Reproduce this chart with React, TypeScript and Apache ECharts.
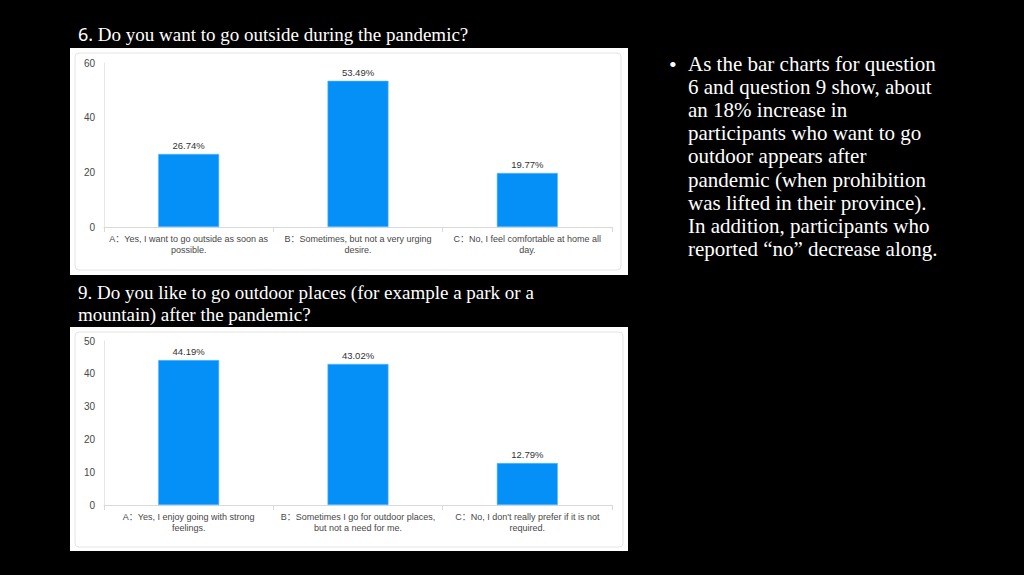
import React, { useEffect, useRef } from 'react';
import * as echarts from 'echarts';

// question 6
const q6Categories = [
  'A：Yes, I want to go outside as soon as\npossible.',
  'B：Sometimes, but not a very urging\ndesire.',
  'C：No, I feel comfortable at home all\nday.',
];
const q6Values = [26.74, 53.49, 19.77];
const q6Number = '6.';
const q6Title = ' Do you want to go outside during the pandemic?';

// question 9
const q9Categories = [
  'A：Yes, I enjoy going with strong\nfeelings.',
  'B：Sometimes I go for outdoor places,\nbut not a need for me.',
  "C：No, I don't really prefer if it is not\nrequired.",
];
const q9Values = [44.19, 43.02, 12.79];
const q9Title = '9. Do you like to go outdoor places (for example a park or a\nmountain) after the pandemic?';

const noteLines = [
  'As the bar charts for question',
  '6 and question 9 show, about',
  'an 18% increase in',
  'participants who want to go',
  'outdoor appears after',
  'pandemic (when prohibition',
  'was lifted in their province).',
  'In addition, participants who',
  'reported \u201cno\u201d decrease along.',
];

const SANS = "'Liberation Sans', 'Noto Sans CJK SC', sans-serif";
const SERIF = "'Liberation Serif', 'DejaVu Serif', serif";
const BAR = '#0590f7';
const AXIS_TEXT = '#474747';

const App: React.FC = () => {
  const chartRef = useRef<HTMLDivElement>(null);

  useEffect(() => {
    if (!chartRef.current) return;
    const chart = echarts.init(chartRef.current, undefined, { renderer: 'svg' });

    const xAxisBase = (gridIndex: number, data: string[]) => ({
      gridIndex,
      type: 'category',
      data,
      axisLine: { lineStyle: { color: '#d9d9d9' } },
      axisTick: { show: true, length: 5, lineStyle: { color: '#d9d9d9' } },
      axisLabel: { interval: 0, color: AXIS_TEXT, fontSize: 9, lineHeight: 11, margin: 6, fontFamily: SANS },
    });
    const yAxisBase = (gridIndex: number, max: number, interval: number) => ({
      gridIndex,
      type: 'value',
      min: 0,
      max,
      interval,
      axisLine: { show: true, lineStyle: { color: '#e6e6e6' } },
      axisTick: { show: false },
      splitLine: { show: false },
      axisLabel: { color: AXIS_TEXT, fontSize: 10, margin: 9, fontFamily: SANS },
    });
    const barSeries = (idx: number, data: number[]) => ({
      type: 'bar',
      xAxisIndex: idx,
      yAxisIndex: idx,
      data,
      barWidth: '36%',
      itemStyle: { color: BAR, borderColor: '#5bb8ff', borderWidth: 0.6 },
      label: {
        show: true,
        position: 'top',
        distance: 4,
        formatter: '{c}%',
        color: '#333',
        fontSize: 9.5,
        fontFamily: SANS,
      },
    });

    const option = {
      animation: false,
      backgroundColor: '#000',
      grid: [
        { left: 104, top: 63, width: 508, height: 164 },
        { left: 104, top: 341, width: 508, height: 164 },
      ],
      xAxis: [xAxisBase(0, q6Categories), xAxisBase(1, q9Categories)],
      yAxis: [yAxisBase(0, 60, 20), yAxisBase(1, 50, 10)],
      series: [barSeries(0, q6Values), barSeries(1, q9Values)],
      graphic: [
        // white panels behind the two charts
        { type: 'rect', shape: { x: 70, y: 48, width: 558, height: 227 }, style: { fill: '#fff' }, z: -2 },
        { type: 'rect', shape: { x: 75, y: 53, width: 546, height: 217, r: 4 }, style: { fill: 'none', stroke: '#e4e4e4', lineWidth: 1 }, z: -1 },
        { type: 'rect', shape: { x: 70, y: 327, width: 558, height: 224 }, style: { fill: '#fff' }, z: -2 },
        { type: 'rect', shape: { x: 75, y: 332, width: 548, height: 215, r: 4 }, style: { fill: 'none', stroke: '#e4e4e4', lineWidth: 1 }, z: -1 },
        {
          type: 'text',
          x: 78,
          y: 34,
          style: {
            text: `{n|${q6Number}}${q6Title}`,
            fill: '#fff',
            font: `19px ${SERIF}`,
            verticalAlign: 'middle',
            rich: { n: { fontFamily: "'Noto Sans', sans-serif", fontSize: 18, fill: '#fff' } },
          },
        },
        {
          type: 'text',
          x: 78,
          y: 281,
          style: { text: q9Title, fill: '#fff', font: `19px ${SERIF}`, lineHeight: 22, verticalAlign: 'top' },
        },
        {
          type: 'text',
          x: 669,
          y: 64,
          style: { text: '•', fill: '#fff', font: `22px ${SERIF}`, verticalAlign: 'middle' },
        },
        {
          type: 'text',
          x: 688,
          y: 52,
          style: { text: noteLines.join('\n'), fill: '#fff', font: `21px ${SERIF}`, lineHeight: 23.2, verticalAlign: 'top' },
        },
      ],
    };

    chart.setOption(option as any);
    return () => chart.dispose();
  }, []);

  return (
    <div
      ref={chartRef}
      style={{ position: 'absolute', left: 0, top: 0, width: 1024, height: 575, background: '#000' }}
    />
  );
};

export default App;
